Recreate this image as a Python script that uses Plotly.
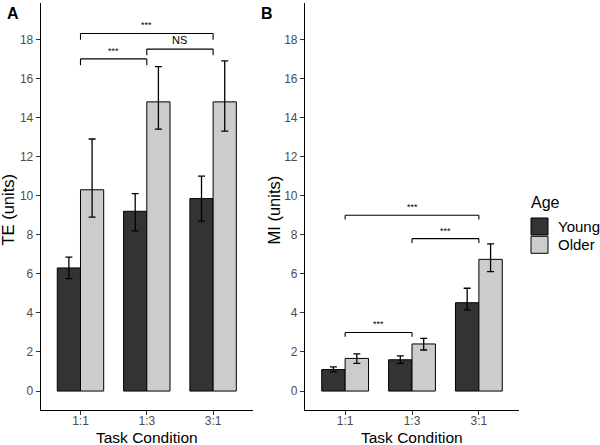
import plotly.graph_objects as go

W, H = 600, 445

conditions = ["1:1", "1:3", "3:1"]
groups = ["Young", "Older"]
group_colors = {"Young": "#333333", "Older": "#CCCCCC"}

# panel A: TE (units)
te_young = [6.3, 9.2, 9.85]
te_young_hi = [6.85, 10.1, 11.0]
te_young_lo = [5.75, 8.2, 8.7]
te_older = [10.3, 14.8, 14.8]
te_older_hi = [12.9, 16.6, 16.9]
te_older_lo = [8.9, 13.4, 13.3]

# panel B: MI (units)
mi_young = [1.1, 1.6, 4.52]
mi_young_hi = [1.24, 1.8, 5.26]
mi_young_lo = [0.98, 1.42, 4.15]
mi_older = [1.67, 2.41, 6.74]
mi_older_hi = [1.9, 2.7, 7.53]
mi_older_lo = [1.42, 2.1, 6.11]

# significance brackets: (from, to, height, label)
te_brackets = [("1:1", "3:1", 18.3, "***"), ("1:1", "1:3", 17.0, "***"), ("1:3", "3:1", 17.5, "NS")]
mi_brackets = [("1:1", "3:1", 9.0, "***"), ("1:3", "3:1", 7.8, "***"), ("1:1", "1:3", 3.0, "***")]

y_ticks = list(range(0, 19, 2))
FONT = "Liberation Sans, Arial, sans-serif"


def px_x(x):
    return x / W


def px_y(y):
    return 1 - y / H


panels = [
    ("x", "y", [(te_young, te_young_hi, te_young_lo), (te_older, te_older_hi, te_older_lo)], te_brackets, 0.32),
    ("x2", "y2", [(mi_young, mi_young_hi, mi_young_lo), (mi_older, mi_older_hi, mi_older_lo)], mi_brackets, 0.22),
]

fig = go.Figure()
shapes = []
annotations = []

for xa, ya, series, brackets, tip in panels:
    for g, (vals, hi, lo) in zip(groups, series):
        fig.add_trace(go.Bar(
            x=conditions, y=vals, name=g, xaxis=xa, yaxis=ya,
            offsetgroup=g, showlegend=False,
            marker=dict(color=group_colors[g], line=dict(color="black", width=1)),
            error_y=dict(type="data", symmetric=False,
                         array=[h - v for h, v in zip(hi, vals)],
                         arrayminus=[v - l for l, v in zip(lo, vals)],
                         color="black", thickness=1.3, width=3.5),
        ))
    for a, b, yv, lab in brackets:
        i0, i1 = conditions.index(a), conditions.index(b)
        ref = dict(xref=xa, yref=ya, line=dict(color="black", width=1.1))
        shapes.append(dict(type="line", x0=i0, x1=i1, y0=yv, y1=yv, **ref))
        shapes.append(dict(type="line", x0=i0, x1=i0, y0=yv - tip, y1=yv, **ref))
        shapes.append(dict(type="line", x0=i1, x1=i1, y0=yv - tip, y1=yv, **ref))
        annotations.append(dict(
            x=(i0 + i1) / 2, y=yv, xref=xa, yref=ya, text=lab, showarrow=False,
            yanchor="bottom", yshift=1,
            font=dict(size=9 if lab == "***" else 11, color="black", family=FONT),
        ))

x_dom_a = [px_x(40.7), px_x(252.9)]
x_dom_b = [px_x(305), px_x(519)]
y_dom = [px_y(410), px_y(3)]

axis_common = dict(
    showgrid=False, zeroline=False, showline=True, linecolor="black", linewidth=1.1,
    ticks="outside", ticklen=4, tickcolor="#333333", tickwidth=1, automargin=False,
    tickfont=dict(size=12, color="#4D4D4D", family=FONT),
)
x_common = dict(type="category", range=[-0.6, 2.6], ticklabelstandoff=-4, **axis_common)

fig.update_layout(
    width=W, height=H,
    margin=dict(l=0, r=0, t=0, b=0, pad=0),
    paper_bgcolor="white", plot_bgcolor="white",
    barmode="group", bargap=0.3, bargroupgap=0,
    xaxis=dict(domain=x_dom_a, anchor="y", **x_common),
    xaxis2=dict(domain=x_dom_b, anchor="y2", **x_common),
    yaxis=dict(domain=y_dom, anchor="x", range=[-0.97, 19.86], tickvals=y_ticks, **axis_common),
    yaxis2=dict(domain=y_dom, anchor="x2", range=[-0.97, 19.86], tickvals=y_ticks, **axis_common),
    font=dict(family=FONT),
)

# axis titles and panel letters
for cx, ytitle, letter, lx in [(7.5, "TE (units)", "A", 12.5), (273.5, "MI (units)", "B", 266.7)]:
    annotations.append(dict(x=px_x(cx), y=px_y(210), xref="paper", yref="paper", text=ytitle,
                            textangle=-90, showarrow=False, xanchor="center", yanchor="middle",
                            font=dict(size=16.5, color="black", family=FONT)))
    annotations.append(dict(x=px_x(lx), y=px_y(13), xref="paper", yref="paper", text="<b>%s</b>" % letter,
                            showarrow=False, xanchor="center", yanchor="middle",
                            font=dict(size=16, color="black", family=FONT)))
for cx in [146.8, 412]:
    annotations.append(dict(x=px_x(cx), y=0, xref="paper", yref="paper", text="Task Condition",
                            showarrow=False, xanchor="center", yanchor="bottom", yshift=-3,
                            font=dict(size=15.5, color="black", family=FONT)))

# legend
annotations.append(dict(x=px_x(529), y=px_y(202.5), xref="paper", yref="paper", text="Age",
                        showarrow=False, xanchor="left", yanchor="middle",
                        font=dict(size=16, color="black", family=FONT)))
for k, g in enumerate(groups):
    top = 218 + k * 18.3
    shapes.append(dict(type="rect", xref="paper", yref="paper",
                       x0=px_x(531), x1=px_x(548), y0=px_y(top + 17), y1=px_y(top),
                       fillcolor=group_colors[g], line=dict(color="black", width=1)))
    annotations.append(dict(x=px_x(556), y=px_y(top + 8.5), xref="paper", yref="paper", text=g,
                            showarrow=False, xanchor="left", yanchor="middle",
                            font=dict(size=15, color="black", family=FONT)))

fig.update_layout(shapes=shapes, annotations=annotations)

# the page body has a default 8px margin; drop it so the figure fills the window
fig.write_html("out.html", config={"displayModeBar": False},
               post_script="document.body.style.margin='0';")
